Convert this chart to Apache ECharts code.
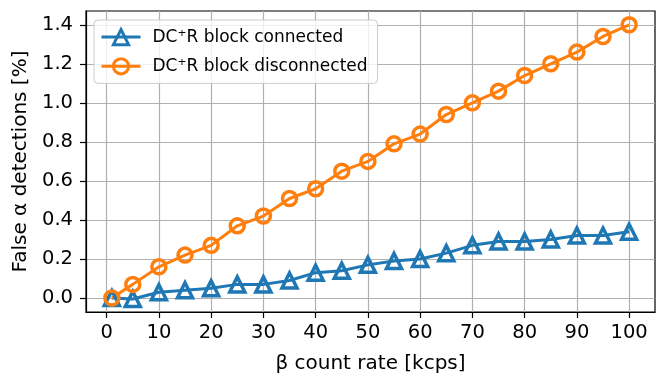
<!DOCTYPE html>
<html>
<head>
<meta charset="utf-8">
<style>
  html, body { margin: 0; padding: 0; background: #fff; }
  #chart { width: 657px; height: 379px; }
</style>
<script src="https://cdn.jsdelivr.net/npm/echarts@6/dist/echarts.min.js"></script>
</head>
<body>
<div id="chart"></div>
<script>
// β count rate in kcps
const rates = [1, 5, 10, 15, 20, 25, 30, 35, 40, 45, 50, 55, 60, 65, 70, 75, 80, 85, 90, 95, 100];
// False α detections [%] with the DC+R block connected
const connected = [0.0, -0.005, 0.03, 0.04, 0.05, 0.07, 0.07, 0.09, 0.13, 0.14, 0.17, 0.19, 0.20, 0.23, 0.27, 0.29, 0.29, 0.30, 0.32, 0.32, 0.34];
// False α detections [%] with the DC+R block disconnected
const disconnected = [0.0, 0.07, 0.16, 0.22, 0.27, 0.37, 0.42, 0.51, 0.56, 0.65, 0.70, 0.79, 0.84, 0.94, 1.00, 1.06, 1.14, 1.20, 1.26, 1.34, 1.40];
// Tick positions
const xTicks = [0, 10, 20, 30, 40, 50, 60, 70, 80, 90, 100];
const yTicks = [0.0, 0.2, 0.4, 0.6, 0.8, 1.0, 1.2, 1.4];

const FONT = 'DejaVu Sans';
const BLUE = '#1f77b4';
const ORANGE = '#ff7f0e';
const NAME_CONNECTED = 'DC⁺R block connected';
const NAME_DISCONNECTED = 'DC⁺R block disconnected';

const chart = echarts.init(document.getElementById('chart'), null, { renderer: 'canvas' });

function pairs(xs, ys) {
  return xs.map((x, i) => [x, ys[i]]);
}

const axisCommon = {
  type: 'value',
  axisLine: { show: true, onZero: false, lineStyle: { color: '#000', width: 1.2 } },
  axisTick: { show: true, inside: false, length: 6, lineStyle: { color: '#000', width: 1.2 } },
  splitLine: { show: true, lineStyle: { color: '#b0b0b0', width: 1.2 } },
  nameTextStyle: { fontFamily: FONT, fontSize: 20, color: '#000' },
  nameLocation: 'middle'
};

// legend handles: thick line with an open marker on top
function legendEntry(name, color) {
  return {
    name: name,
    lineStyle: { color: color, width: 3 },
    itemStyle: { color: 'rgba(255,255,255,0)', borderColor: color, borderWidth: 3 }
  };
}

chart.setOption({
  animation: false,
  backgroundColor: '#fff',
  grid: {
    left: 86, right: 2, top: 11, bottom: 67,
    show: true, borderColor: '#000', borderWidth: 1.2, backgroundColor: 'transparent'
  },
  legend: {
    orient: 'vertical',
    left: 94, top: 20,
    padding: [8, 10, 8, 6],
    itemGap: 11,
    itemWidth: 39,
    itemHeight: 19,
    backgroundColor: 'rgba(255,255,255,0.8)',
    borderColor: '#cccccc',
    borderWidth: 1,
    borderRadius: 4,
    textStyle: { fontFamily: FONT, fontSize: 17, color: '#000', padding: [0, 0, 0, 7] },
    data: [legendEntry(NAME_CONNECTED, BLUE), legendEntry(NAME_DISCONNECTED, ORANGE)]
  },
  xAxis: Object.assign({}, axisCommon, {
    min: -3.95, max: 104.95,
    name: 'β count rate [kcps]',
    nameGap: 42,
    axisTick: Object.assign({}, axisCommon.axisTick, { customValues: xTicks }),
    axisLabel: {
      customValues: xTicks, margin: 11,
      fontFamily: FONT, fontSize: 19.5, color: '#000'
    }
  }),
  yAxis: Object.assign({}, axisCommon, {
    min: -0.0715, max: 1.4705,
    name: 'False α detections [%]',
    nameGap: 50,
    axisTick: Object.assign({}, axisCommon.axisTick, { customValues: yTicks }),
    axisLabel: {
      customValues: yTicks, margin: 13,
      fontFamily: FONT, fontSize: 19.5, color: '#000',
      formatter: v => v.toFixed(1)
    }
  }),
  series: [
    {
      name: NAME_CONNECTED,
      type: 'line',
      data: pairs(rates, connected),
      symbol: 'triangle',
      symbolSize: 15,
      showAllSymbol: true,
      lineStyle: { color: BLUE, width: 3 },
      itemStyle: { color: 'rgba(255,255,255,0)', borderColor: BLUE, borderWidth: 3.5 },
      emphasis: { disabled: true }
    },
    {
      name: NAME_DISCONNECTED,
      type: 'line',
      data: pairs(rates, disconnected),
      symbol: 'circle',
      symbolSize: 14,
      showAllSymbol: true,
      lineStyle: { color: ORANGE, width: 3 },
      itemStyle: { color: 'rgba(255,255,255,0)', borderColor: ORANGE, borderWidth: 3.5 },
      emphasis: { disabled: true }
    }
  ]
});
</script>
</body>
</html>
